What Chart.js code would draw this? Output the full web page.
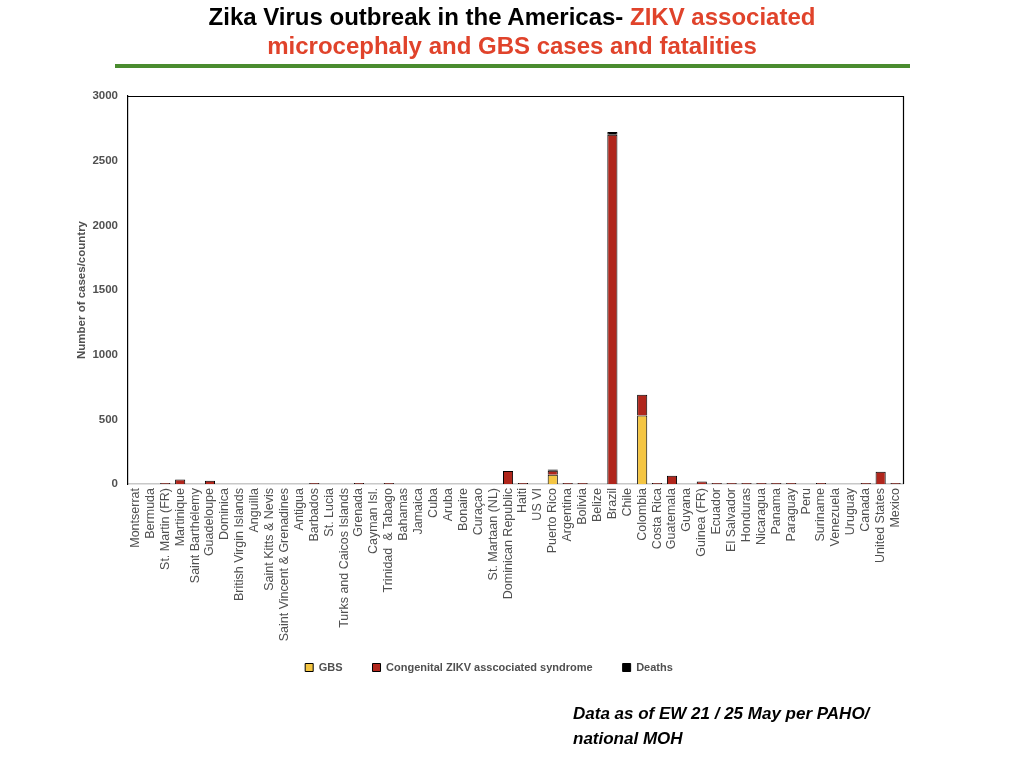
<!DOCTYPE html>
<html>
<head>
<meta charset="utf-8">
<script src="https://cdn.jsdelivr.net/npm/chart.js@4.4.1/dist/chart.umd.min.js"></script>
<style>
  html, body { margin: 0; padding: 0; background: #fff; }
  #page { position: relative; width: 1024px; height: 768px; overflow: hidden; }
  #wrap { position: absolute; left: 0; top: 0; width: 1024px; height: 768px; }
  .title {
    position: absolute; left: 0; width: 1024px; text-align: center;
    font-family: "Liberation Sans Narrow", "Liberation Sans", Arial, sans-serif;
    font-weight: bold; font-size: 24px; line-height: 29px; top: 2px;
  }
  .red { color: #e0432b; }
  .rule { position: absolute; left: 115px; top: 64px; width: 795px; height: 4px; background: #4a8c2f; }
  .note {
    position: absolute; left: 573px; top: 701px;
    font-family: "Liberation Sans", Arial, sans-serif;
    font-style: italic; font-weight: bold; font-size: 17px; line-height: 25px; color: #000;
  }
</style>
</head>
<body>
<div id="page">
  <div id="wrap"><canvas id="chart"></canvas></div>
  <div class="title">Zika Virus outbreak in the Americas- <span class="red">ZIKV associated</span><br><span class="red">microcephaly and GBS cases and fatalities</span></div>
  <div class="rule"></div>
  <div class="note">Data as of EW 21 / 25 May per PAHO/<br>national MOH</div>
</div>
<script>
var countries = ['Montserrat', 'Bermuda', 'St. Martin (FR)', 'Martinique', 'Saint Barthélemy',
  'Guadeloupe', 'Dominica', 'British Virgin Islands', 'Anguilla', 'Saint Kitts & Nevis',
  'Saint Vincent & Grenadines', 'Antigua', 'Barbados', 'St. Lucia', 'Turks and Caicos Islands',
  'Grenada', 'Cayman Isl.', 'Trinidad  & Tabago', 'Bahamas', 'Jamaica', 'Cuba', 'Aruba',
  'Bonaire', 'Curaçao', 'St. Martaan (NL)', 'Dominican Republic', 'Haiti', 'US VI',
  'Puerto Rico', 'Argentina', 'Bolivia', 'Belize', 'Brazil', 'Chile', 'Colombia', 'Costa Rica',
  'Guatemala', 'Guyana', 'Guinea (FR)', 'Ecuador', 'El Salvador', 'Honduras', 'Nicaragua',
  'Panama', 'Paraguay', 'Peru', 'Suriname', 'Venezuela', 'Uruguay', 'Canada',
  'United States', 'Mexico'];

// values (cases)
var gbs = [0, 0, 0, 0, 0, 0, 0, 0, 0, 0,
  0, 0, 0, 0, 0, 0, 0, 0, 0, 0,
  0, 0, 0, 0, 0, 0, 0, 0, 72, 0,
  0, 0, 0, 0, 530, 0, 0, 0, 0, 0,
  0, 0, 0, 0, 0, 0, 0, 0, 0, 0,
  0, 0];
var congenital = [0, 0, 8, 35, 0, 25, 0, 0, 0, 0,
  0, 0, 8, 0, 0, 8, 0, 8, 0, 0,
  0, 0, 0, 0, 0, 101, 8, 0, 31, 8,
  8, 0, 2700, 0, 160, 8, 64, 0, 20, 8,
  8, 8, 8, 8, 8, 0, 8, 0, 0, 8,
  95, 8];
var deaths = [0, 0, 0, 0, 0, 0, 0, 0, 0, 0,
  0, 0, 0, 0, 0, 0, 0, 0, 0, 0,
  0, 0, 0, 0, 0, 0, 0, 0, 10, 0,
  0, 0, 22, 0, 0, 0, 0, 0, 0, 0,
  0, 0, 0, 0, 0, 0, 0, 0, 0, 0,
  0, 0];
var yTicks = [0, 500, 1000, 1500, 2000, 2500, 3000];

var gray = '#505050';

// black frame on top / right of the plot area, legend pulled up a bit
var frame = {
  id: 'frame',
  afterLayout: function (chart) {
    chart.legend.top -= 14;
    chart.legend.bottom -= 14;
  },
  afterDraw: function (chart) {
    var a = chart.chartArea, c = chart.ctx;
    c.save();
    c.strokeStyle = '#000';
    c.lineWidth = 1.2;
    c.beginPath();
    c.moveTo(a.left, a.top + 0.5);
    c.lineTo(a.right + 0.5, a.top + 0.5);
    c.lineTo(a.right + 0.5, a.bottom);
    c.stroke();
    c.restore();
  }
};

new Chart(document.getElementById('chart'), {
  type: 'bar',
  data: {
    labels: countries,
    datasets: [
      { label: 'GBS', data: gbs, backgroundColor: '#f4c542' },
      { label: 'Congenital ZIKV asscociated syndrome', data: congenital, backgroundColor: '#b0261c' },
      { label: 'Deaths', data: deaths, backgroundColor: '#000000' }
    ]
  },
  options: {
    responsive: true,
    maintainAspectRatio: false,
    animation: false,
    layout: { padding: { left: 75, right: 121, top: 96, bottom: 71 } },
    datasets: {
      bar: {
        borderColor: '#000', borderWidth: 1,
        barPercentage: 0.68, categoryPercentage: 1
      }
    },
    plugins: {
      legend: {
        position: 'bottom',
        labels: {
          boxWidth: 8, boxHeight: 8, padding: 30, color: gray,
          font: { family: 'Liberation Sans, Arial, sans-serif', size: 11, weight: 'bold' },
          generateLabels: function (chart) {
            return chart.data.datasets.map(function (ds, i) {
              return {
                text: ds.label, fillStyle: ds.backgroundColor, strokeStyle: '#000',
                lineWidth: 1, datasetIndex: i, fontColor: gray
              };
            });
          }
        }
      },
      tooltip: { enabled: false }
    },
    scales: {
      x: {
        stacked: true,
        grid: { display: false, drawTicks: false },
        border: { color: '#c8c8c8', width: 1.5 },
        ticks: {
          autoSkip: false, maxRotation: 90, minRotation: 90, padding: 4, color: gray,
          font: { family: 'Liberation Sans, Arial, sans-serif', size: 12.5 }
        },
        afterFit: function (s) { s.height = 162; }
      },
      y: {
        stacked: true,
        min: 0, max: 3000,
        grid: { display: false, drawTicks: false },
        border: { color: '#000', width: 1.2 },
        afterBuildTicks: function (s) { s.ticks = yTicks.map(function (v) { return { value: v }; }); },
        ticks: {
          padding: 10, color: gray,
          font: { family: 'Liberation Sans, Arial, sans-serif', size: 11.5, weight: 'bold' },
          callback: function (v) { return String(v); }
        },
        title: {
          display: true, text: 'Number of cases/country', color: gray, padding: 0,
          font: { family: 'Liberation Sans, Arial, sans-serif', size: 11.5, weight: 'bold' }
        },
        afterFit: function (s) { s.width = 53; }
      }
    }
  },
  plugins: [frame]
});
</script>
</body>
</html>
